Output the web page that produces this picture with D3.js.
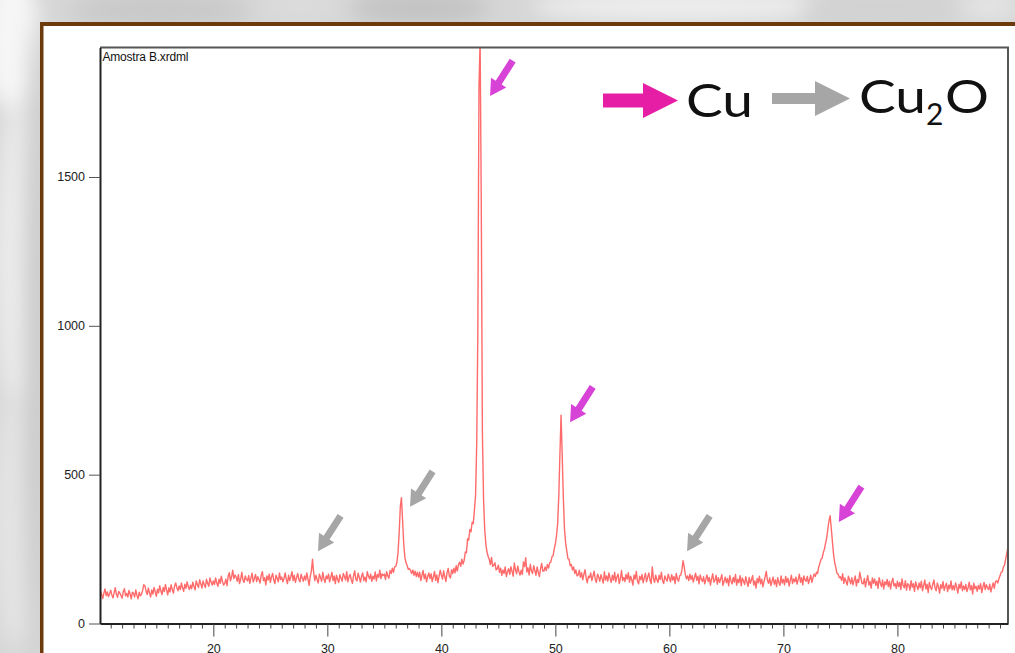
<!DOCTYPE html>
<html>
<head>
<meta charset="utf-8">
<script src="https://cdn.jsdelivr.net/npm/d3@7"></script>
<style>
html, body { margin: 0; padding: 0; background: #dcdcdc; overflow: hidden; }
svg { display: block; }
</style>
</head>
<body>
<svg id="chart"></svg>
<script>
var width = 1015, height = 653

// XRD counts, one value every 0.1 deg 2-theta, starting at 10.0
var counts10 = [92,108,98,84,102,116,94,106,90,100, 112,96,86,104,120,98,88,108,102,94,
    85,107,117,93,101,89,111,99,83,105, 101,89,113,95,83,105,93,99,111,130,
    127,109,97,119,103,89,113,99,121,107, 91,115,103,127,109,97,121,107,131,113,
    96,120,106,130,114,102,126,136,120,110, 126,114,136,120,108,132,118,140,124,114,
    129,117,139,125,113,143,131,121,147,133, 119,143,131,121,149,135,125,153,139,129]
var counts20 = [143,131,153,137,125,149,135,159,141,129, 135,149,127,159,171,143,157,179,151,163,
    156,142,164,134,150,172,146,138,160,148, 143,161,135,153,169,139,151,165,141,157,
    148,136,162,174,144,154,130,160,146,166, 138,156,168,146,134,162,152,140,170,148,
    156,140,152,170,148,134,162,144,158,174, 144,162,138,154,168,148,140,166,152,142,
    160,146,170,150,128,158,176,216,171,144, 162,148,136,166,154,142,172,150,138,160]
var counts30 = [150,166,140,156,172,144,160,134,162,148, 138,164,152,142,168,158,146,174,140,156,
    165,147,135,161,177,149,143,169,155,139, 158,170,144,156,140,174,160,150,166,142,
    159,149,173,143,165,155,179,151,167,161, 166,148,174,160,152,178,168,186,172,190,
    192,205,238,305,392,423,345,268,222,204, 195,182,184,178,168,180,162,176,158,172,
    156,172,144,162,178,150,166,140,158,170, 151,167,141,157,175,145,163,137,159,179]
var counts40 = [163,149,177,157,141,171,185,159,153,181, 168,186,170,194,176,198,206,192,216,200,
    212,240,238,285,280,316,308,340,336,380, 430,600,980,1800,1960,1420,640,420,318,268,
    240,226,216,198,222,192,196,204,180,184, 196,172,186,162,180,168,190,158,174,184,
    165,191,175,159,203,181,167,193,175,163, 179,165,207,191,221,173,187,163,199,177,
    168,194,178,162,190,172,158,184,202,176, 176,190,178,198,186,204,206,224,228,250]
var counts50 = [268,295,335,430,570,700,565,420,318,270, 244,218,216,194,198,180,190,168,180,160,
    163,179,155,171,147,165,181,153,137,159, 154,170,144,160,176,148,138,166,156,142,
    164,150,136,174,146,160,142,170,152,138, 162,146,172,140,156,166,134,150,178,144,
    155,141,165,149,171,139,159,147,129,163, 149,175,143,133,159,147,165,137,153,169,
    140,156,170,146,134,190,152,138,162,148, 138,162,148,172,144,134,160,150,142,166]
var counts60 = [152,140,164,146,158,134,168,150,142,160, 163,180,211,190,164,150,160,144,166,148,
    161,139,155,169,145,159,133,163,149,141, 157,133,149,163,141,155,129,151,167,139,
    146,162,132,154,138,150,164,128,142,156, 137,151,127,161,143,133,155,139,165,129,
    149,137,161,127,153,143,131,157,139,125, 155,135,147,161,129,143,119,151,137,159,
    133,149,123,141,157,175,145,135,153,127, 142,156,132,146,124,154,138,128,160,136]
var counts70 = [148,130,158,138,152,126,144,162,134,150, 140,156,132,148,166,138,154,130,160,146,
    142,158,134,148,162,138,154,166,158,172, 168,190,202,216,220,238,250,270,288,318,
    345,362,320,275,232,205,188,168,166,154, 157,145,167,135,153,141,129,159,147,133,
    154,130,144,160,126,148,138,172,152,134, 133,151,123,145,161,129,141,119,153,135,
    150,128,142,118,154,136,124,146,116,140, 130,148,124,142,116,138,152,126,134,118]
var counts80 = [142,124,138,114,150,128,120,144,112,134, 130,112,144,122,134,108,140,126,114,136,
    120,142,110,128,146,116,132,104,138,122, 114,132,146,120,110,136,124,102,130,118,
    141,111,125,135,107,129,117,143,113,127, 112,136,122,102,132,118,140,110,126,114,
    131,107,121,139,113,127,99,135,117,125, 108,128,116,134,104,122,138,114,130,120,
    114,132,106,122,136,118,140,144,136,150, 160,172,174,190,196,218,236,260,268,288]
var startAngle = 10.0, step = 0.1

// arrow tips (2-theta, counts) pointing at the indexed peaks
var peakArrows = [
    {phase: "Cu2O", t: 29.18, c: 243},
    {phase: "Cu2O", t: 37.25, c: 392},
    {phase: "Cu", t: 44.27, c: 1772},
    {phase: "Cu", t: 51.29, c: 676},
    {phase: "Cu2O", t: 61.55, c: 243},
    {phase: "Cu", t: 74.86, c: 341}
]
var yTicks = [0, 500, 1000, 1500]
var xMajor = [20, 30, 40, 50, 60, 70, 80]
var xMinor = d3.range(11, 90).filter(d => d % 10 != 0)
var fileName = "Amostra B.xrdml"

var counts = [].concat(counts10, counts20, counts30, counts40, counts50, counts60, counts70, counts80)
var pattern = counts.map((c, i) => ({t: startAngle + i * step, c: c}))

var svg = d3.select("#chart")
    .attr("width", width)
    .attr("height", height)
var defs = svg.append("defs")

defs.append("filter")
    .attr("id", "soft")
    .attr("x", "-50%").attr("y", "-50%").attr("width", "200%").attr("height", "200%")
    .append("feGaussianBlur")
        .attr("stdDeviation", 10)

// blurred grey backdrop
var bg = svg.append("g")
bg.append("rect")
    .attr("width", width)
    .attr("height", height)
    .attr("fill", "#d6d6d6")
var blobs = bg.append("g").attr("filter", "url(#soft)")
var blobData = [
    [12, 40, 28, 70, "#f6f6f6"], [18, 260, 22, 160, "#ececec"], [16, 520, 22, 130, "#e4e4e4"],
    [160, 10, 90, 16, "#c8c8c8"], [420, 8, 70, 16, "#c2c2c2"], [300, 6, 40, 14, "#dcdcdc"],
    [680, 6, 150, 16, "#eeeeee"], [880, 10, 80, 16, "#d2d2d2"], [990, 6, 30, 12, "#e6e6e6"],
    [34, 340, 8, 320, "#c4c4c4"]
]
blobs.selectAll("ellipse")
    .data(blobData)
    .enter()
    .append("ellipse")
        .attr("cx", d => d[0])
        .attr("cy", d => d[1])
        .attr("rx", d => d[2])
        .attr("ry", d => d[3])
        .attr("fill", d => d[4])

// white panel with brown frame
svg.append("rect")
    .attr("x", 40).attr("y", 22)
    .attr("width", width).attr("height", height)
    .attr("fill", "#6c3a0b")
svg.append("rect")
    .attr("x", 43.5).attr("y", 26)
    .attr("width", width).attr("height", height)
    .attr("fill", "#ffffff")

var x = d3.scaleLinear()
    .domain([10.06, 89.7])
    .range([100, 1008])
var y = d3.scaleLinear()
    .domain([0, 1935])
    .range([623.5, 47.5])

defs.append("clipPath")
    .attr("id", "plotclip")
    .append("rect")
        .attr("x", 100).attr("y", 47.5)
        .attr("width", 908).attr("height", 576)

var line = d3.line()
    .x(d => x(d.t))
    .y(d => y(d.c))

svg.append("path")
    .datum(pattern)
    .attr("clip-path", "url(#plotclip)")
    .attr("d", line)
    .attr("fill", "none")
    .attr("stroke", "#ff4646")
    .attr("stroke-width", 1.4)
    .attr("stroke-opacity", 0.8)
    .attr("stroke-linejoin", "round")

// plot frame: grey top/right, black axes
svg.append("path")
    .attr("d", "M100,47.5H1008V623.5")
    .attr("fill", "none")
    .attr("stroke", "#555")
    .attr("stroke-width", 2)

var yAxis = svg.append("g")
    .attr("transform", "translate(100,0)")
    .call(d3.axisLeft(y).tickValues(yTicks).tickFormat(d3.format("d")).tickSize(11).tickPadding(4).tickSizeOuter(0))
yAxis.select(".domain").attr("stroke", "#222").attr("stroke-width", 2)
yAxis.selectAll(".tick line").attr("stroke", "#555")
yAxis.selectAll("text")
    .attr("font-family", "Liberation Sans, Arial, sans-serif")
    .attr("font-size", 12.5)
    .attr("fill", "#222")

var xMinorAxis = svg.append("g")
    .attr("transform", "translate(0,623.5)")
    .call(d3.axisBottom(x).tickValues(xMinor).tickSize(5).tickFormat("").tickSizeOuter(0))
xMinorAxis.select(".domain").remove()
xMinorAxis.selectAll(".tick line").attr("stroke", "#444")

var xAxis = svg.append("g")
    .attr("transform", "translate(0,623.5)")
    .call(d3.axisBottom(x).tickValues(xMajor).tickFormat(d3.format("d")).tickSize(13).tickPadding(8).tickSizeOuter(0))
xAxis.select(".domain").attr("stroke", "#222").attr("stroke-width", 2)
xAxis.selectAll(".tick line").attr("stroke", "#444")
xAxis.selectAll("text")
    .attr("font-family", "Liberation Sans, Arial, sans-serif")
    .attr("font-size", 12.5)
    .attr("fill", "#222")

svg.append("text")
    .attr("x", 102.5)
    .attr("y", 61)
    .attr("font-family", "Liberation Sans, Arial, sans-serif")
    .attr("font-size", 12)
    .attr("letter-spacing", -0.2)
    .attr("fill", "#111")
    .text(fileName)

// peak arrows, drawn pointing along +x with the tip at the origin, then turned
var arrowColour = {"Cu": "#d742d7", "Cu2O": "#a6a6a6"}
var arrowAngle = Math.atan2(36, -23) * 180 / Math.PI
svg.selectAll(".peak-arrow")
    .data(peakArrows)
    .enter()
    .append("path")
        .attr("class", "peak-arrow")
        .attr("d", "M0,0L-16,-9L-16,-3.5L-42,-3.5L-42,3.5L-16,3.5L-16,9Z")
        .attr("fill", d => arrowColour[d.phase])
        .attr("transform", d => "translate(" + x(d.t) + "," + y(d.c) + ") rotate(" + arrowAngle + ")")

// legend
var legend = svg.append("g")
legend.append("path")
    .attr("d", "M603,93.5H643V83L678,100.5L643,118V107.5H603Z")
    .attr("fill", "#e61ea5")
legend.append("path")
    .attr("d", "M772,93H815V81L850,98.5L815,116V104H772Z")
    .attr("fill", "#a6a6a6")
var legendFont = "Lato, 'Noto Sans', sans-serif"
legend.append("text")
    .attr("x", 686).attr("y", 117)
    .attr("font-family", legendFont)
    .attr("font-size", 46)
    .attr("textLength", 67)
    .attr("lengthAdjust", "spacingAndGlyphs")
    .attr("fill", "#111")
    .text("Cu")
legend.append("text")
    .attr("x", 859).attr("y", 113)
    .attr("font-family", legendFont)
    .attr("font-size", 46)
    .attr("textLength", 67)
    .attr("lengthAdjust", "spacingAndGlyphs")
    .attr("fill", "#111")
    .text("Cu")
legend.append("text")
    .attr("x", 926).attr("y", 125)
    .attr("font-family", legendFont)
    .attr("font-size", 30)
    .attr("fill", "#111")
    .text("2")
legend.append("text")
    .attr("x", 945).attr("y", 113)
    .attr("font-family", legendFont)
    .attr("font-size", 46)
    .attr("textLength", 44)
    .attr("lengthAdjust", "spacingAndGlyphs")
    .attr("fill", "#111")
    .text("O")
</script>
</body>
</html>
